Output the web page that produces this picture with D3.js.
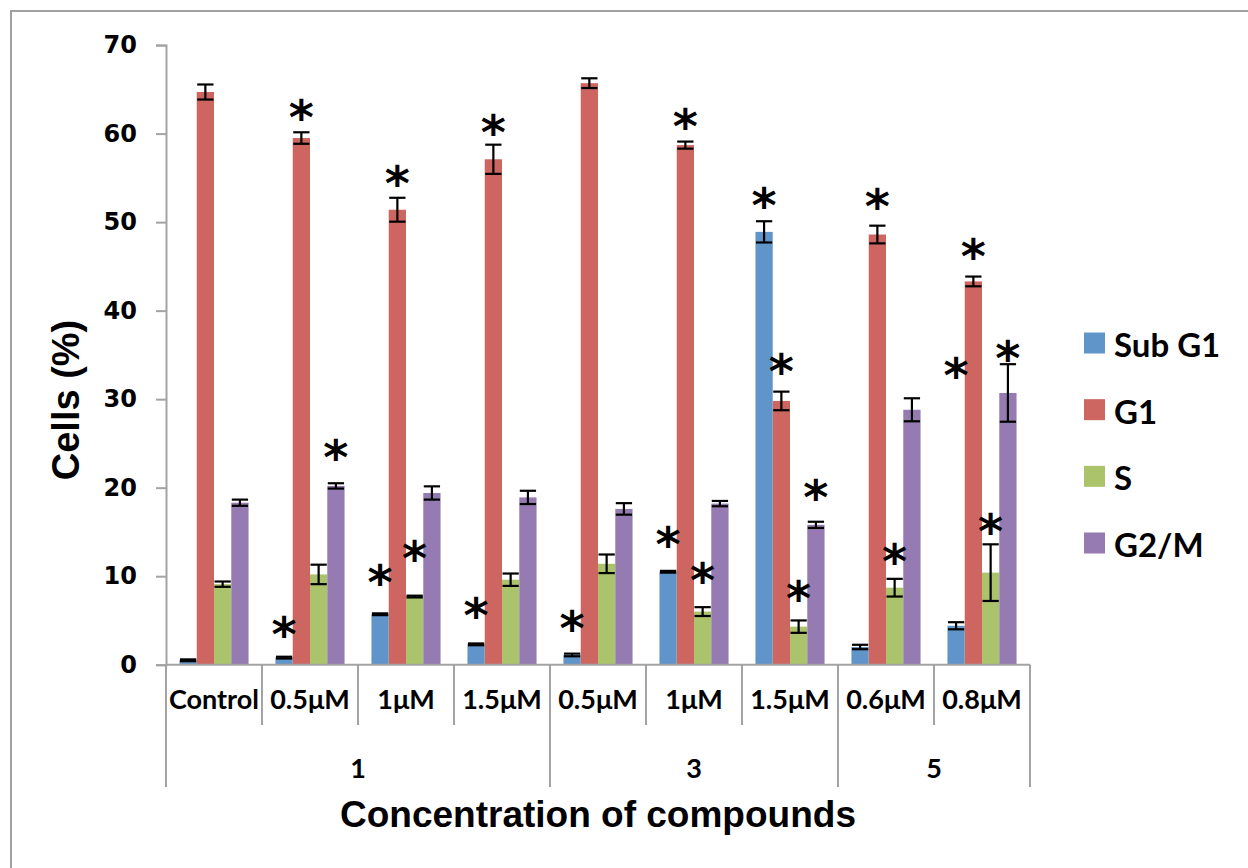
<!DOCTYPE html>
<html>
<head>
<meta charset="utf-8">
<script src="https://cdn.jsdelivr.net/npm/d3@7"></script>
<style>
  html, body { margin: 0; padding: 0; background: #fff; }
  svg { display: block; }
</style>
</head>
<body>
<svg id="chart" width="1248" height="868"></svg>
<script>
// Cell-cycle distribution (%) per treatment
const series = ["Sub G1", "G1", "S", "G2/M"];
const seriesColors = ["#6095c9", "#cd6660", "#abc46c", "#957bb2"];
const concentrations = ["Control", "0.5μM", "1μM", "1.5μM", "0.5μM", "1μM", "1.5μM", "0.6μM", "0.8μM"];
const compounds = ["1", "3", "5"];
const compoundOf = [0, 0, 0, 0, 1, 1, 1, 2, 2];
const yTicks = [0, 10, 20, 30, 40, 50, 60, 70];

const subG1 = [0.5, 0.8, 5.7, 2.3, 1.1, 10.5, 48.9, 2.0, 4.4];
const g1    = [64.7, 59.5, 51.4, 57.1, 65.7, 58.7, 29.8, 48.6, 43.3];
const sPhase = [9.1, 10.2, 7.7, 9.6, 11.4, 6.0, 4.3, 8.7, 10.4];
const g2m   = [18.3, 20.2, 19.4, 18.9, 17.6, 18.2, 15.8, 28.8, 30.7];

const subG1Err = [0.1, 0.1, 0.1, 0.1, 0.15, 0.1, 1.2, 0.25, 0.4];
const g1Err    = [0.85, 0.65, 1.35, 1.65, 0.55, 0.4, 1.05, 1.0, 0.55];
const sErr     = [0.3, 1.1, 0.1, 0.7, 1.05, 0.5, 0.7, 1.0, 3.2];
const g2mErr   = [0.35, 0.3, 0.75, 0.75, 0.65, 0.3, 0.35, 1.3, 3.25];

// Significance markers: [concentration index, series index, height in %]
const sigMarks = [
  [1, 0, 4.65], [1, 1, 62.96], [1, 3, 24.54],
  [2, 0, 10.47], [2, 1, 55.59], [2, 2, 13.15],
  [3, 0, 6.76], [3, 1, 61.26],
  [4, 0, 5.33],
  [5, 0, 14.8], [5, 1, 61.94], [5, 2, 10.7],
  [6, 0, 53.09], [6, 1, 34.35], [6, 2, 8.67], [6, 3, 20.11],
  [7, 1, 52.98], [7, 2, 12.8],
  [8, 0, 33.86], [8, 1, 47.28], [8, 2, 16.25], [8, 3, 35.74]
];

const values = [subG1, g1, sPhase, g2m];
const errors = [subG1Err, g1Err, sErr, g2mErr];

const svg = d3.select("#chart");
const axisGray = "#a3a3a3";

// outer frame
svg.append("rect")
  .attr("x", 11).attr("y", 11)
  .attr("width", 1260).attr("height", 880)
  .attr("fill", "none").attr("stroke", "#a0a0a0").attr("stroke-width", 2);

const plot = { left: 166, right: 1030, top: 45.1, bottom: 664.7 };

const idx = d3.range(concentrations.length);
const x0 = d3.scaleBand().domain(idx).range([plot.left, plot.right]).padding(0);
const bw = x0.bandwidth();
const x1 = d3.scaleBand().domain(d3.range(series.length))
  .range([bw * 0.14, bw * 0.86]).padding(0);
const y = d3.scaleLinear().domain([0, 70]).range([plot.bottom, plot.top]);

// y axis
const yAxis = svg.append("g")
  .attr("transform", `translate(${plot.left},0)`)
  .call(d3.axisLeft(y).tickValues(yTicks).tickSize(10).tickPadding(19).tickFormat(d3.format("d")));
yAxis.select(".domain").attr("stroke", axisGray).attr("stroke-width", 2);
yAxis.selectAll(".tick line").attr("stroke", axisGray).attr("stroke-width", 2);
yAxis.selectAll(".tick text")
  .attr("fill", "#000")
  .style("font-family", "'DejaVu Sans', Verdana, sans-serif")
  .style("font-weight", "bold")
  .style("font-size", "24px");

// bars
const barData = [];
idx.forEach(i => series.forEach((s, j) => {
  barData.push({ i, j, v: values[j][i], e: errors[j][i] });
}));

svg.append("g").selectAll("rect")
  .data(barData)
  .join("rect")
  .attr("x", d => x0(d.i) + x1(d.j))
  .attr("y", d => y(d.v))
  .attr("width", x1.bandwidth())
  .attr("height", d => y(0) - y(d.v))
  .attr("fill", d => seriesColors[d.j]);

// error bars
const eb = svg.append("g").attr("stroke", "#000").attr("stroke-width", 2.2).attr("fill", "none");
const capW = x1.bandwidth() - 1;
barData.forEach(d => {
  const cx = x0(d.i) + x1(d.j) + x1.bandwidth() / 2;
  const yHi = y(d.v + d.e), yLo = y(d.v - d.e);
  eb.append("line").attr("x1", cx).attr("x2", cx).attr("y1", yHi).attr("y2", yLo);
  eb.append("line").attr("x1", cx - capW / 2).attr("x2", cx + capW / 2).attr("y1", yHi).attr("y2", yHi);
  eb.append("line").attr("x1", cx - capW / 2).attr("x2", cx + capW / 2).attr("y1", yLo).attr("y2", yLo);
});

// x axis baseline
svg.append("line")
  .attr("x1", plot.left).attr("x2", plot.right)
  .attr("y1", y(0)).attr("y2", y(0))
  .attr("stroke", axisGray).attr("stroke-width", 2);

// significance asterisks
svg.append("g").selectAll("text")
  .data(sigMarks)
  .join("text")
  .attr("x", d => x0(d[0]) + x1(d[1]) + x1.bandwidth() / 2)
  .attr("y", d => y(d[2]) + 27)
  .attr("text-anchor", "middle")
  .style("font-family", "'DejaVu Sans', sans-serif")
  .style("font-weight", "bold")
  .style("font-size", "48px")
  .text("*");

// category dividers: short for concentrations, long at compound boundaries
const catGroup = svg.append("g").attr("stroke", axisGray).attr("stroke-width", 2);
d3.range(concentrations.length + 1).forEach(k => {
  const xPos = k < concentrations.length ? x0(k) : plot.right;
  const boundary = k === 0 || k === concentrations.length || compoundOf[k] !== compoundOf[k - 1];
  catGroup.append("line")
    .attr("x1", xPos).attr("x2", xPos)
    .attr("y1", y(0)).attr("y2", boundary ? 787 : 725);
});

const labelFont = "Lato, 'Open Sans', sans-serif";

svg.append("g").selectAll("text")
  .data(idx)
  .join("text")
  .attr("x", i => x0(i) + bw / 2)
  .attr("y", 709)
  .attr("text-anchor", "middle")
  .style("font-family", labelFont)
  .style("font-weight", "bold")
  .style("font-size", "27px")
  .text(i => concentrations[i]);

// compound labels centred under their concentration spans
svg.append("g").selectAll("text")
  .data(compounds)
  .join("text")
  .attr("x", (c, g) => {
    const members = idx.filter(i => compoundOf[i] === g);
    const a = x0(members[0]);
    const b = x0(members[members.length - 1]) + bw;
    return (a + b) / 2;
  })
  .attr("y", 778)
  .attr("text-anchor", "middle")
  .style("font-family", labelFont)
  .style("font-weight", "bold")
  .style("font-size", "27px")
  .text(c => c);

// axis titles
svg.append("text")
  .attr("x", (plot.left + plot.right) / 2)
  .attr("y", 827)
  .attr("text-anchor", "middle")
  .style("font-family", "'Liberation Sans', Arial, sans-serif")
  .style("font-weight", "bold")
  .style("font-size", "37px")
  .text("Concentration of compounds");

svg.append("text")
  .attr("transform", "translate(79,400) rotate(-90)")
  .attr("text-anchor", "middle")
  .style("font-family", "'Liberation Sans', Arial, sans-serif")
  .style("font-weight", "bold")
  .style("font-size", "38px")
  .text("Cells (%)");

// legend
const legend = svg.append("g").attr("transform", "translate(1084,0)");
const legendY = d3.scalePoint().domain(series).range([343, 543]);
series.forEach((s, j) => {
  legend.append("rect")
    .attr("x", 0).attr("y", legendY(s) - 10.5)
    .attr("width", 21).attr("height", 21)
    .attr("fill", seriesColors[j]);
  legend.append("text")
    .attr("x", 30).attr("y", legendY(s) + 14)
    .style("font-family", labelFont)
    .style("font-weight", "bold")
    .style("font-size", "33px")
    .text(s);
});
</script>
</body>
</html>
